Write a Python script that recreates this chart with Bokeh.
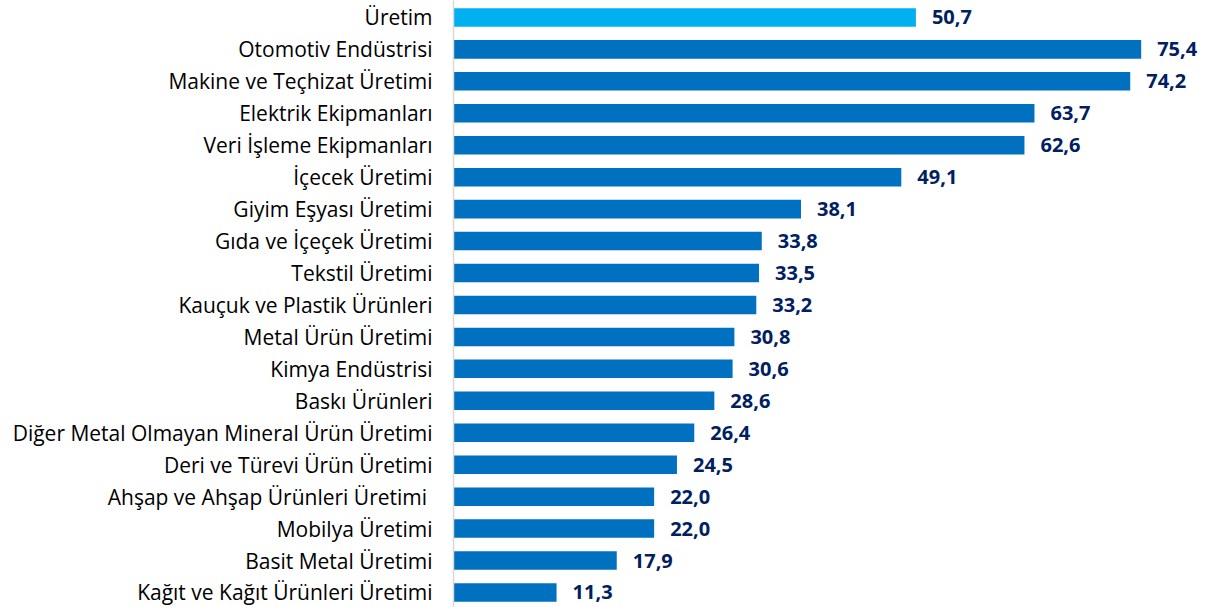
from bokeh.plotting import figure
from bokeh.models import Range1d, FixedTicker, ColumnDataSource
from bokeh.core.properties import value
from bokeh.embed import file_html
from bokeh.resources import INLINE

categories = [
    "Üretim",
    "Otomotiv Endüstrisi",
    "Makine ve Teçhizat Üretimi",
    "Elektrik Ekipmanları",
    "Veri İşleme Ekipmanları",
    "İçecek Üretimi",
    "Giyim Eşyası Üretimi",
    "Gıda ve İçeçek Üretimi",
    "Tekstil Üretimi",
    "Kauçuk ve Plastik Ürünleri",
    "Metal Ürün Üretimi",
    "Kimya Endüstrisi",
    "Baskı Ürünleri",
    "Diğer Metal Olmayan Mineral Ürün Üretimi",
    "Deri ve Türevi Ürün Üretimi",
    "Ahşap ve Ahşap Ürünleri Üretimi ",
    "Mobilya Üretimi",
    "Basit Metal Üretimi",
    "Kağıt ve Kağıt Ürünleri Üretimi",
]
values = [50.7, 75.4, 74.2, 63.7, 62.6, 49.1, 38.1, 33.8, 33.5, 33.2,
          30.8, 30.6, 28.6, 26.4, 24.5, 22.0, 22.0, 17.9, 11.3]

FONT = "Open Sans"
positions = list(range(len(categories)))
colors = ["#00B0F0"] + ["#0070C0"] * (len(categories) - 1)
labels = [f"{v:.1f}".replace(".", ",") for v in values]

src = ColumnDataSource(dict(y=positions, v=values, c=colors, lab=labels))

p = figure(width=1210, height=607, output_backend="svg", toolbar_location=None,
           x_range=Range1d(0, 83.0), y_range=Range1d(18.47, -0.53),
           min_border_left=453, min_border_right=0, min_border_top=0, min_border_bottom=0)

p.hbar(y="y", right="v", left=0, height=0.58, fill_color="c", line_color=None, source=src)
p.text(x="v", y="y", text="lab", source=src, x_offset=16, text_baseline="middle",
       text_align="left", text_font=value(FONT), text_font_style="bold",
       text_font_size="20px", text_color="#002060")

p.xaxis.visible = False
p.xgrid.visible = False
p.ygrid.visible = False
p.outline_line_color = None

yax = p.yaxis[0]
yax.ticker = FixedTicker(ticks=positions)
yax.major_label_overrides = {i: c for i, c in enumerate(categories)}
yax.major_tick_line_color = None
yax.minor_tick_line_color = None
yax.major_tick_out = 0
yax.major_tick_in = 0
yax.axis_line_color = "#D9D9D9"
yax.axis_line_width = 1.5
yax.major_label_standoff = 21
yax.major_label_text_font = FONT
yax.major_label_text_font_size = "21px"
yax.major_label_text_color = "#000000"

open("out.html", "w").write(file_html(p, INLINE))
